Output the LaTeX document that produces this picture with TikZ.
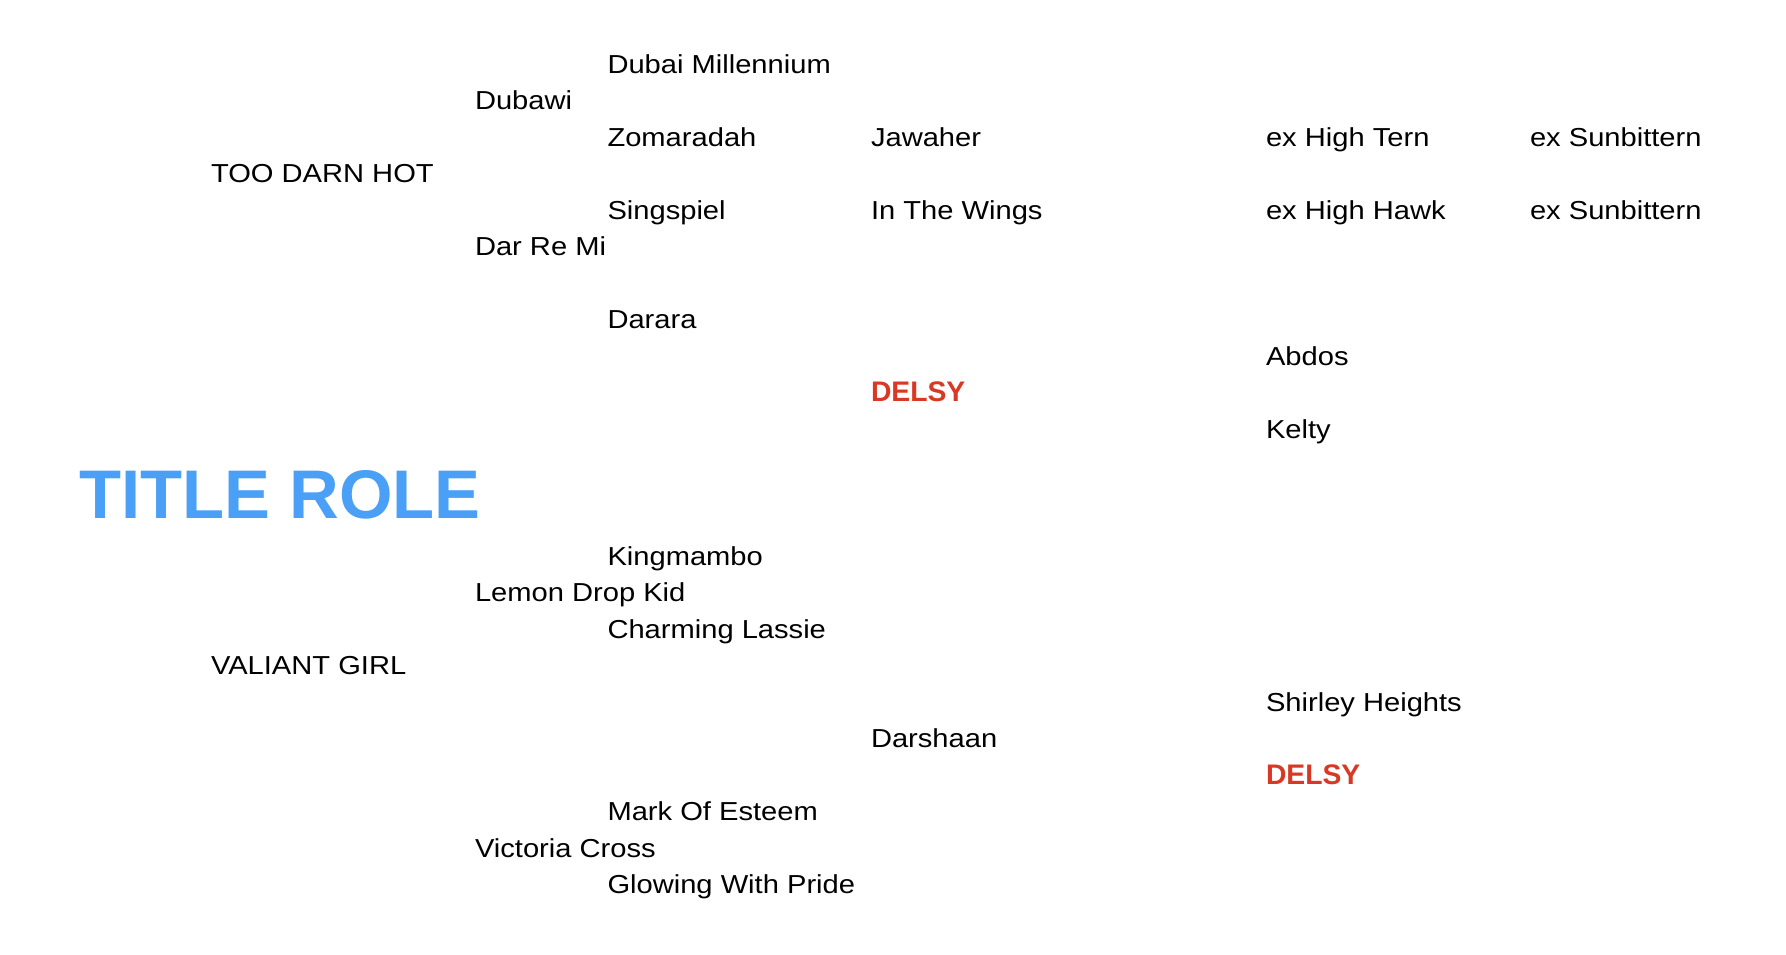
\documentclass[tikz,border=0pt]{standalone}
\usepackage{fontspec}
\setmainfont{Liberation Sans}
\newfontfamily\hvs[FakeStretch=1.12]{Liberation Sans}
\definecolor{titleblue}{RGB}{74,160,246}
\definecolor{delsyred}{RGB}{217,57,36}
\begin{document}
\begin{tikzpicture}[x=1pt,y=-1pt,
  every node/.style={anchor=base west,inner sep=0pt,outer sep=0pt},
  horse/.style={font=\hvs\fontsize{26}{26}\selectfont,text=black},
  red/.style={font=\bfseries\fontsize{28.3}{28.3}\selectfont,text=delsyred},
  titlestyle/.style={font=\bfseries\fontsize{68.8}{68.8}\selectfont,text=titleblue}]
\useasboundingbox[fill=white] (0,0) rectangle (1786,954);
% columns
\def\cA{211}\def\cB{475}\def\cC{607.5}\def\cD{871}\def\cE{1266}\def\cF{1530}
% title
\node[titlestyle] (title) at (79.5,518) {TITLE ROLE};
% upper half
\node[horse] (dubaimil) at (\cC,73) {Dubai Millennium};
\node[horse] (dubawi) at (\cB,109.5) {Dubawi};
\node[horse] (zomaradah) at (\cC,146) {Zomaradah};
\node[horse] (jawaher) at (\cD,146) {Jawaher};
\node[horse] (hightern) at (\cE,146) {ex High Tern};
\node[horse] (sunbit1) at (\cF,146) {ex Sunbittern};
\node[horse] (toodarn) at (\cA,182.5) {TOO DARN HOT};
\node[horse] (singspiel) at (\cC,219) {Singspiel};
\node[horse] (inthewings) at (\cD,219) {In The Wings};
\node[horse] (highhawk) at (\cE,219) {ex High Hawk};
\node[horse] (sunbit2) at (\cF,219) {ex Sunbittern};
\node[horse] (darremi) at (\cB,255.5) {Dar Re Mi};
\node[horse] (darara) at (\cC,328.5) {Darara};
\node[horse] (abdos) at (\cE,365) {Abdos};
\node[red] (delsyA) at (\cD,401.5) {DELSY};
\node[horse] (kelty) at (\cE,438) {Kelty};
% lower half
\node[horse] (kingmambo) at (\cC,565) {Kingmambo};
\node[horse] (lemon) at (\cB,601.5) {Lemon Drop Kid};
\node[horse] (charming) at (\cC,638) {Charming Lassie};
\node[horse] (valiant) at (\cA,674.5) {VALIANT GIRL};
\node[horse] (shirley) at (\cE,711) {Shirley Heights};
\node[horse] (darshaan) at (\cD,747.5) {Darshaan};
\node[red] (delsyB) at (\cE,784) {DELSY};
\node[horse] (markesteem) at (\cC,820.5) {Mark Of Esteem};
\node[horse] (victoria) at (\cB,857) {Victoria Cross};
\node[horse] (glowing) at (\cC,893.5) {Glowing With Pride};
\end{tikzpicture}
\end{document}
